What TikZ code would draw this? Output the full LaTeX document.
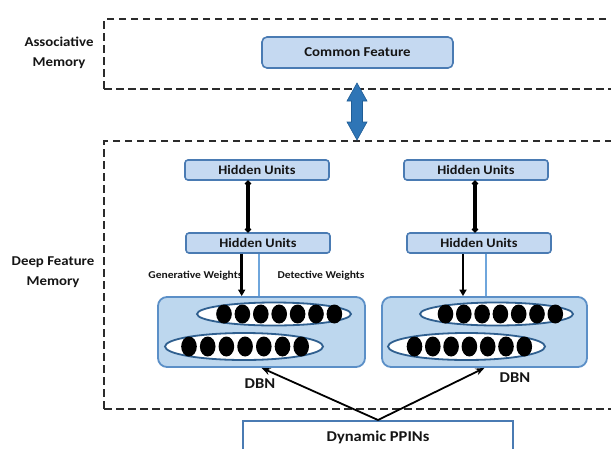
\documentclass[tikz,border=0pt]{standalone}
\usepackage{fontspec}
\setmainfont{Carlito}[FakeStretch=1.1]
\usetikzlibrary{arrows.meta,calc,shapes.geometric}
\definecolor{lblue}{HTML}{C5D9F1}
\definecolor{bblue}{HTML}{4A7BB3}
\definecolor{dbnfill}{HTML}{BDD7EE}
\definecolor{dbnline}{HTML}{5B8FC7}
\definecolor{ellline}{HTML}{2F5F8F}
\definecolor{ablue}{HTML}{2E75B6}
\definecolor{adark}{HTML}{1F5D96}
\definecolor{wblue}{HTML}{6FA6DC}
\definecolor{dgray}{HTML}{2B2B2B}
\definecolor{txt}{HTML}{151515}
\begin{document}
\begin{tikzpicture}[x=1pt,y=-1pt,
  every node/.style={text=txt},
  memorybox/.style={draw=dgray, line width=2.2pt, dash pattern=on 7.5pt off 4.5pt},
  sidelabel/.style={align=center, font=\bfseries\fontsize{13.5}{19.5}\selectfont},
  cfbox/.style={draw=bblue, line width=1.6pt, fill=lblue, rounded corners=5pt,
    minimum width=191pt, minimum height=31pt, inner sep=0pt,
    font=\bfseries\fontsize{13.5}{15}\selectfont},
  hbox/.style={draw=bblue, line width=1.6pt, fill=lblue, rounded corners=3pt,
    minimum width=144pt, minimum height=20pt, inner sep=0pt,
    font=\bfseries\fontsize{13}{14}\selectfont},
  dbnbox/.style={draw=dbnline, line width=1.8pt, fill=dbnfill, rounded corners=9pt,
    minimum height=70pt, inner sep=0pt},
  layer/.style={ellipse, draw=ellline, line width=1.8pt, fill=white, inner sep=0pt},
  wlabel/.style={font=\bfseries\fontsize{10.5}{12}\selectfont},
  dbnlabel/.style={font=\bfseries\fontsize{15}{17}\selectfont},
  tied/.style={line width=3.4pt, {Circle[length=5.5pt]}-{Circle[length=5.5pt]}},
  genarrow/.style={line width=2.6pt, -{Triangle[length=6.5pt,width=7pt]}},
  detline/.style={wblue, line width=2.2pt},
  inarrow/.style={line width=1.8pt, -{Stealth[length=9pt,width=7pt]}},
  ppinbox/.style={draw=bblue, line width=1.6pt, fill=white, inner sep=0pt,
    minimum width=270pt, minimum height=60pt}
]
\useasboundingbox (0,0) rectangle (611,448);
\clip (0,0) rectangle (611,448);

% memory regions
\node[memorybox, anchor=north west, minimum width=540pt, minimum height=70pt] (am) at (103,18) {};
\node[memorybox, anchor=north west, minimum width=540pt, minimum height=268pt] (dfm) at (103,140) {};

\node[sidelabel] (amlab) at (59,53) {Associative\\Memory};
\node[sidelabel] (dfmlab) at (53,272) {Deep Feature\\Memory};

% common feature
\node[cfbox] (cf) at (357.5,52.5) {Common Feature};

% block double arrow
\coordinate (aT) at (357,83);
\coordinate (aB) at (357,140);
\filldraw[fill=ablue, draw=adark, line width=0.6pt]
  (aT) -- ++(10,18) -- ++(-4.5,0) -- ($(aB)+(5.5,-18)$) -- ++(4.5,0) -- (aB)
  -- ++(-10,-18) -- ++(4.5,0) -- ($(aT)+(-5.5,18)$) -- ++(-4.5,0) -- cycle;

% hidden units
\node[hbox] (h1L) at (257,170) {Hidden Units};
\node[hbox] (h2L) at (258,243) {Hidden Units};
\node[hbox] (h1R) at (476,170) {Hidden Units};
\node[hbox] (h2R) at (479,243) {Hidden Units};

% DBN boxes
\node[dbnbox, minimum width=207pt] (dbnL) at (261.5,332) {};
\node[dbnbox, minimum width=205pt] (dbnR) at (484.5,332) {};

% layers
\node[layer, minimum width=154pt, minimum height=23pt] (vL1) at (274,314) {};
\node[layer, minimum width=158pt, minimum height=27pt] (vL2) at (244,346.5) {};
\node[layer, minimum width=153pt, minimum height=23pt] (vR1) at (496.5,314) {};
\node[layer, minimum width=157pt, minimum height=27pt] (vR2) at (466.5,346.5) {};

\foreach \i in {0,...,6} {
  \fill[black] (224+18.4*\i,314) ellipse [x radius=7.8, y radius=9.5];
  \fill[black] (189+18.7*\i,346.5) ellipse [x radius=7.8, y radius=10];
  \fill[black] (445.5+18.3*\i,314) ellipse [x radius=7.8, y radius=9.5];
  \fill[black] (414.5+18.3*\i,346.5) ellipse [x radius=7.8, y radius=10];
}

% connectors between hidden units
\coordinate (cL) at (248,0);
\coordinate (cR) at (475,0);
\draw[tied] (h1L.south -| cL) -- (h2L.north -| cL);
\draw[tied] (h1R.south -| cR) -- (h2R.north -| cR);

% generative / detective weights
\coordinate (gL) at (241.7,0);
\coordinate (bL) at (259.3,0);
\coordinate (gR) at (463,0);
\coordinate (bR) at (486,0);

\node[wlabel, anchor=east] (genlab) at (246,276) {Generative Weights};
\node[wlabel] (detlab) at (321,276) {Detective Weights};

\draw[detline] (h2L.south -| bL) -- (dbnL.north -| bL);
\draw[detline] (h2R.south -| bR) -- (dbnR.north -| bR);
\draw[genarrow] (h2L.south -| gL) -- (dbnL.north -| gL);
\draw[genarrow] (h2R.south -| gR) -- (dbnR.north -| gR);

% DBN labels
\node[dbnlabel] (dbnLlab) at (260,384) {DBN};
\node[dbnlabel] (dbnRlab) at (515,378) {DBN};

% dynamic PPINs
\node[ppinbox, anchor=north] (dp) at (378,420) {};
\node[dbnlabel] (dptext) at (378,437) {Dynamic PPINs};

\draw[inarrow] (dp.north) -- (dbnL.south);
\draw[inarrow] (dp.north) -- (dbnR.south);
\end{tikzpicture}
\end{document}
